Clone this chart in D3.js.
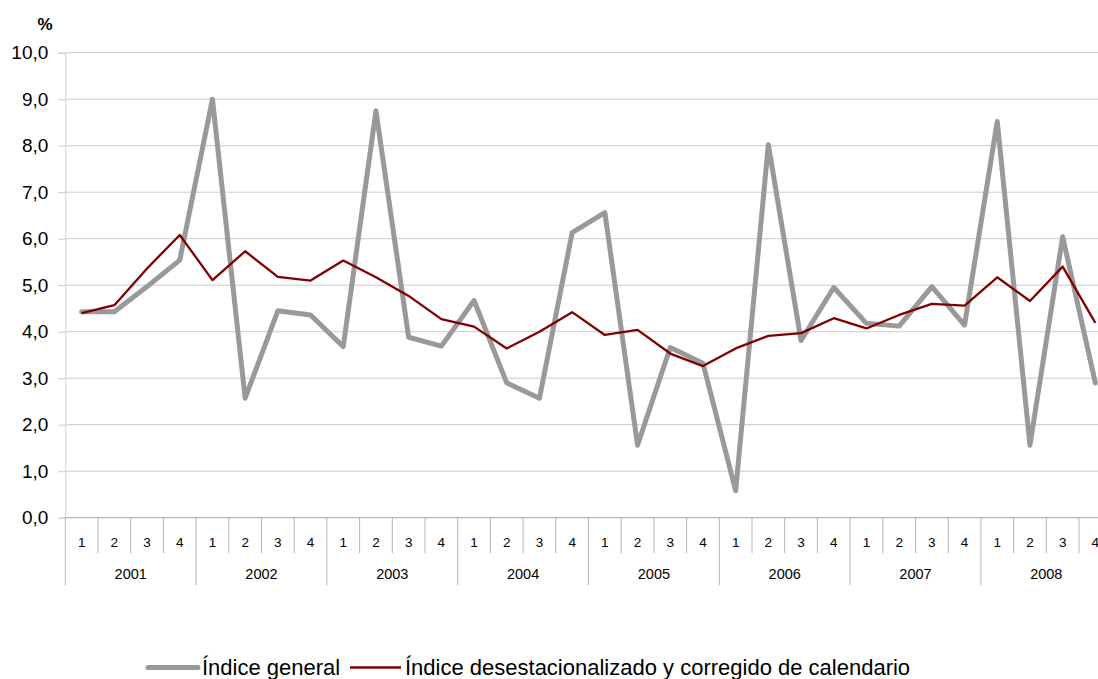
<!DOCTYPE html>
<html>
<head>
<meta charset="utf-8">
<script src="https://cdn.jsdelivr.net/npm/d3@7"></script>
<style>
	body { margin: 0; background: #fff; }
	svg { display: block; font-family: "Liberation Sans", Arial, sans-serif; }
</style>
</head>
<body>
<div id="chart"></div>
<script>
// Quarters per year, years on the category axis
const years = ["2001", "2002", "2003", "2004", "2005", "2006", "2007", "2008"];
const quarters = ["1", "2", "3", "4"];

// Índice general (%)
const indiceGeneral = [
	4.43, 4.43, 4.97, 5.54,
	9.00, 2.57, 4.45, 4.36,
	3.68, 8.75, 3.88, 3.69,
	4.67, 2.90, 2.57, 6.13,
	6.56, 1.56, 3.66, 3.32,
	0.58, 8.02, 3.81, 4.95,
	4.18, 4.12, 4.97, 4.14,
	8.52, 1.56, 6.04, 2.90
];

// Índice desestacionalizado y corregido de calendario (%)
const indiceCorregido = [
	4.40, 4.57, 5.36, 6.08,
	5.11, 5.73, 5.18, 5.10,
	5.53, 5.17, 4.77, 4.27,
	4.11, 3.64, 4.00, 4.42,
	3.93, 4.04, 3.53, 3.26,
	3.64, 3.91, 3.97, 4.29,
	4.07, 4.36, 4.60, 4.56,
	5.17, 4.66, 5.40, 4.19
];

const yTicks = [0, 1, 2, 3, 4, 5, 6, 7, 8, 9, 10];

const seriesNames = ["Índice general", "Índice desestacionalizado y corregido de calendario"];

const width = 1098, height = 679;
const plot = { left: 65.3, right: 1111.7, top: 52.7, bottom: 517.7 };

const svg = d3.select("#chart").append("svg")
	.attr("width", width)
	.attr("height", height);

// one key per quarter
const keys = [];
years.forEach(y => quarters.forEach(q => keys.push(`${y}-${q}`)));

const x = d3.scaleBand().domain(keys).range([plot.left, plot.right]).padding(0);
const y = d3.scaleLinear().domain([0, 10]).range([plot.bottom, plot.top]);
const cx = (k) => x(k) + x.bandwidth() / 2;

// gridlines
svg.append("g")
	.selectAll("line")
	.data(yTicks.filter(t => t > 0))
	.enter()
	.append("line")
	.attr("x1", plot.left)
	.attr("x2", width)
	.attr("y1", d => y(d))
	.attr("y2", d => y(d))
	.attr("stroke", "#cbcbcb")
	.attr("stroke-width", 1);

// y axis
const yAxis = svg.append("g")
	.attr("transform", `translate(${plot.left},0)`)
	.call(d3.axisLeft(y).tickValues(yTicks).tickSize(7).tickPadding(10)
		.tickFormat(d => d.toFixed(1).replace(".", ",")));
yAxis.select(".domain").attr("stroke", "#d0d0d0");
yAxis.selectAll(".tick line").attr("stroke", "#c8c8c8");
yAxis.selectAll(".tick text")
	.attr("font-size", "19px")
	.attr("fill", "#000")
	.attr("font-family", "Liberation Sans, Arial, sans-serif");

svg.append("text")
	.attr("x", 45)
	.attr("y", 30)
	.attr("text-anchor", "middle")
	.attr("font-size", "17px")
	.attr("font-weight", "bold")
	.attr("fill", "#000")
	.text("%");

// x axis: baseline, quarter dividers and year dividers
const xAxis = svg.append("g");
xAxis.append("line")
	.attr("x1", plot.left).attr("x2", width)
	.attr("y1", plot.bottom).attr("y2", plot.bottom)
	.attr("stroke", "#a6a6a6").attr("stroke-width", 1);

xAxis.selectAll("line.div")
	.data(keys)
	.enter()
	.append("line")
	.attr("class", "div")
	.attr("x1", d => x(d)).attr("x2", d => x(d))
	.attr("y1", plot.bottom)
	.attr("y2", d => d.endsWith("-1") ? 585 : 553)
	.attr("stroke", "#b4b4b4").attr("stroke-width", 1);

xAxis.selectAll("text.q")
	.data(keys)
	.enter()
	.append("text")
	.attr("class", "q")
	.attr("x", d => cx(d))
	.attr("y", 547)
	.attr("text-anchor", "middle")
	.attr("font-size", "13.5px")
	.attr("fill", "#000")
	.text(d => d.split("-")[1]);

xAxis.selectAll("text.yr")
	.data(years)
	.enter()
	.append("text")
	.attr("class", "yr")
	.attr("x", d => (x(`${d}-1`) + x(`${d}-4`) + x.bandwidth()) / 2)
	.attr("y", 579)
	.attr("text-anchor", "middle")
	.attr("font-size", "14.5px")
	.attr("fill", "#000")
	.text(d => d);

// lines
const line = d3.line()
	.x((d, i) => cx(keys[i]))
	.y(d => y(d));

svg.append("path")
	.datum(indiceGeneral)
	.attr("d", line)
	.attr("fill", "none")
	.attr("stroke", "#999999")
	.attr("stroke-width", 5)
	.attr("stroke-linejoin", "round")
	.attr("stroke-linecap", "round");

svg.append("path")
	.datum(indiceCorregido)
	.attr("d", line)
	.attr("fill", "none")
	.attr("stroke", "#800000")
	.attr("stroke-width", 2.3)
	.attr("stroke-linejoin", "round");

// legend
const legend = svg.append("g").attr("transform", "translate(0,667.5)");
const legendItems = [
	{ name: seriesNames[0], x1: 148, x2: 198, color: "#999999", w: 5, tx: 202 },
	{ name: seriesNames[1], x1: 350, x2: 401, color: "#800000", w: 2.3, tx: 405 }
];
legendItems.forEach(item => {
	legend.append("line")
		.attr("x1", item.x1).attr("x2", item.x2)
		.attr("stroke", item.color)
		.attr("stroke-width", item.w)
		.attr("stroke-linecap", item.w > 3 ? "round" : "butt");
	legend.append("text")
		.attr("x", item.tx)
		.attr("y", 7.5)
		.attr("font-size", "22px")
		.attr("fill", "#000")
		.text(item.name);
});
</script>
</body>
</html>
